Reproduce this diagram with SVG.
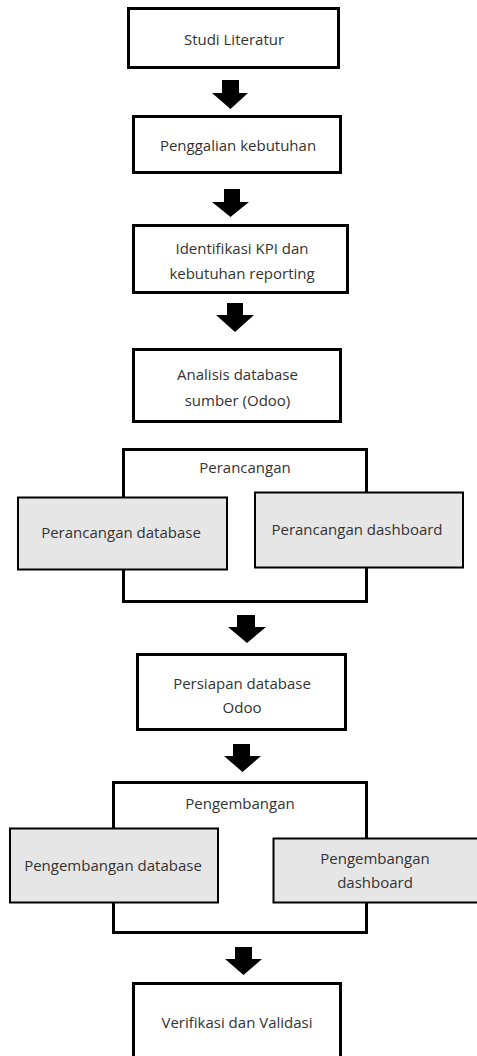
<svg xmlns="http://www.w3.org/2000/svg" width="477" height="1056" viewBox="0 0 477 1056">
  <style>
    .box { fill: #ffffff; stroke: #000000; stroke-width: 3; }
    .sub { fill: #e6e6e6; stroke: #000000; stroke-width: 2; }
    .arrow { fill: #000000; }
    text { font-family: "Open Sans", "Liberation Sans", sans-serif; font-size: 15px; fill: #333333; text-anchor: middle; }
  </style>
  <rect width="477" height="1056" fill="#ffffff"/>

  <!-- Block arrows between the steps -->
  <g id="connectors">
    <polygon class="arrow" points="222,80 239,80 239,93 248,93 230.5,109 212,93 222,93"/>
    <polygon class="arrow" points="224,189 240,189 240,202 249,202 230.5,217 212,202 224,202"/>
    <polygon class="arrow" points="227,303 243,303 243,315 254,315 235,332 216,315 227,315"/>
    <polygon class="arrow" points="237,615 255,615 255,627 266,627 247,643 228,627 237,627"/>
    <polygon class="arrow" points="233,744 250,744 250,756 261,756 242.5,772 224,756 233,756"/>
    <polygon class="arrow" points="235,947 252,947 252,959 262,959 243.5,975 225,959 235,959"/>
  </g>

  <g id="studi-literatur">
    <rect class="box" x="128.5" y="8.5" width="210" height="59"/>
    <text x="234" y="44.5">Studi Literatur</text>
  </g>

  <g id="penggalian-kebutuhan">
    <rect class="box" x="133.5" y="116.5" width="207" height="56"/>
    <text x="238" y="150.5">Penggalian kebutuhan</text>
  </g>

  <g id="identifikasi-kpi">
    <rect class="box" x="133.5" y="225.5" width="214" height="67"/>
    <text x="242" y="253.5">Identifikasi KPI dan</text>
    <text x="242" y="278.5">kebutuhan reporting</text>
  </g>

  <g id="analisis-database">
    <rect class="box" x="133.5" y="349.5" width="207" height="72"/>
    <text x="237.5" y="379.5">Analisis database</text>
    <text x="237.5" y="405.5">sumber (Odoo)</text>
  </g>

  <g id="perancangan">
    <rect class="box" x="123.5" y="449.5" width="243" height="152"/>
    <text x="245" y="472.5">Perancangan</text>
    <g id="perancangan-database">
      <rect class="sub" x="18" y="497.5" width="209" height="72"/>
      <text x="121" y="537.5">Perancangan database</text>
    </g>
    <g id="perancangan-dashboard">
      <rect class="sub" x="255" y="492.5" width="208" height="75"/>
      <text x="357" y="534.5">Perancangan dashboard</text>
    </g>
  </g>

  <g id="persiapan-database">
    <rect class="box" x="137.5" y="654.5" width="208" height="75"/>
    <text x="242" y="688.5">Persiapan database</text>
    <text x="242" y="712.5">Odoo</text>
  </g>

  <g id="pengembangan">
    <rect class="box" x="113.5" y="782.5" width="253" height="150"/>
    <text x="240" y="808.5">Pengembangan</text>
    <g id="pengembangan-database">
      <rect class="sub" x="10" y="828.5" width="208" height="74"/>
      <text x="113" y="870.5">Pengembangan database</text>
    </g>
    <g id="pengembangan-dashboard">
      <rect class="sub" x="273.5" y="838.5" width="210" height="64"/>
      <text x="375" y="863.5">Pengembangan</text>
      <text x="375" y="887.5">dashboard</text>
    </g>
  </g>

  <g id="verifikasi-validasi">
    <rect class="box" x="133.5" y="983.5" width="207" height="100"/>
    <text x="237" y="1027.5">Verifikasi dan Validasi</text>
  </g>
</svg>
